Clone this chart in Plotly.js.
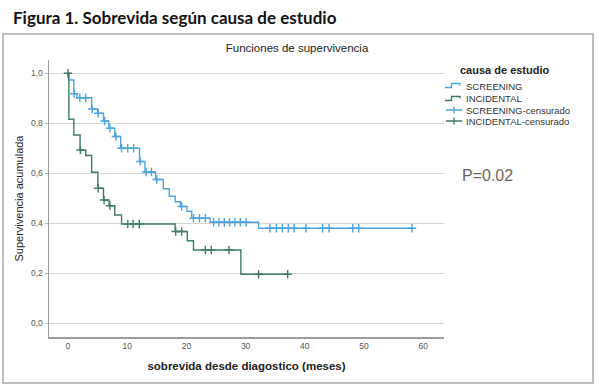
<!DOCTYPE html>
<html>
<head>
<meta charset="utf-8">
<script src="https://cdn.plot.ly/plotly-3.0.1.min.js"></script>
<style>
html,body{margin:0;padding:0;background:#fff;}
#chart{width:599px;height:391px;}
</style>
</head>
<body>
<div id="chart"></div>
<script>
// ---- data ----
const groupNames = ["SCREENING", "INCIDENTAL"];
const legendTitle = "causa de estudio";

// SCREENING: event times (months) and survival after each event
const screeningTimes = [0.15, 1.0, 1.5, 4.0, 5.0, 6.0, 6.9, 7.9, 8.9, 12.1, 13.0, 14.8, 16.1, 17.1, 18.1, 19.0, 20.1, 20.9, 24.0, 32.2];
const screeningSurv  = [0.973, 0.918, 0.902, 0.857, 0.84, 0.809, 0.78, 0.747, 0.70, 0.647, 0.605, 0.575, 0.538, 0.508, 0.486, 0.467, 0.448, 0.42, 0.404, 0.38];
const screeningCensored = [1.05, 2.0, 3.0, 4.1, 5.1, 6.2, 7.1, 8.1, 9.05, 10.1, 11.1, 12.2, 13.2, 14.1, 15.0, 19.2, 21.2, 22.2, 23.2, 24.6, 25.5, 26.4, 27.3, 28.2, 29.1, 30.1, 34.1, 35.2, 36.2, 37.2, 38.2, 40.2, 43.0, 44.1, 48.1, 49.1, 58.1];
const screeningEnd = 58.2;

// INCIDENTAL
const incidentalTimes = [0.15, 1.0, 2.05, 3.0, 4.0, 5.05, 6.0, 6.95, 7.9, 9.05, 18.1, 20.15, 21.2, 29.2];
const incidentalSurv  = [0.816, 0.753, 0.693, 0.671, 0.604, 0.54, 0.493, 0.47, 0.433, 0.397, 0.367, 0.33, 0.293, 0.196];
const incidentalCensored = [0, 2.1, 5.1, 6.1, 7.1, 10.1, 11.0, 12.05, 18.2, 19.2, 23.2, 24.2, 27.2, 32.2, 37.1];
const incidentalEnd = 37.1;

const xTickVals = [0, 10, 20, 30, 40, 50, 60];
const yTickVals = [0, 0.2, 0.4, 0.6, 0.8, 1.0];
const pValueText = "P=0.02";

// ---- helpers ----
function stepXY(times, surv, end) {
  const x = [0], y = [1];
  for (let i = 0; i < times.length; i++) { x.push(times[i]); y.push(surv[i]); }
  x.push(end); y.push(surv[surv.length - 1]);
  return {x, y};
}
function survAt(times, surv, t) {
  let s = 1;
  for (let i = 0; i < times.length; i++) { if (times[i] < t) s = surv[i]; }
  return s;
}

const blue = "#4da3dd";
const dark = "#3f7a6e";

const sStep = stepXY(screeningTimes, screeningSurv, screeningEnd);
const iStep = stepXY(incidentalTimes, incidentalSurv, incidentalEnd);

const traces = [
  {x: sStep.x, y: sStep.y, mode: "lines", line: {shape: "hv", color: blue, width: 1.4}, name: groupNames[0], showlegend: false, hoverinfo: "skip"},
  {x: iStep.x, y: iStep.y, mode: "lines", line: {shape: "hv", color: dark, width: 1.4}, name: groupNames[1], showlegend: false, hoverinfo: "skip"},
  {x: screeningCensored, y: screeningCensored.map(t => survAt(screeningTimes, screeningSurv, t)), mode: "markers",
   marker: {symbol: "cross-thin-open", size: 6, color: blue, line: {color: blue, width: 1.4}}, name: groupNames[0] + "-censurado", showlegend: false},
  {x: incidentalCensored, y: incidentalCensored.map(t => survAt(incidentalTimes, incidentalSurv, t)), mode: "markers",
   marker: {symbol: "cross-thin-open", size: 6, color: dark, line: {color: dark, width: 1.4}}, name: groupNames[1] + "-censurado", showlegend: false}
];

// layout geometry (pixels -> paper)
const L = 49, R = 444, T = 60, B = 337;
const PX = p => (p - L) / (R - L);
const PY = p => (B - p) / (B - T);

const shapes = [
  {type: "rect", xref: "paper", yref: "paper", x0: PX(3), x1: PX(593), y0: PY(383), y1: PY(34), line: {color: "#a6a6a6", width: 1.5}, layer: "below"},
  // legend icons
  {type: "path", xref: "paper", yref: "paper", path: `M${PX(445)},${PY(87.5)} L${PX(451.5)},${PY(87.5)} L${PX(451.5)},${PY(83.5)} L${PX(460)},${PY(83.5)} L${PX(460)},${PY(85.5)}`, line: {color: blue, width: 1.3}},
  {type: "path", xref: "paper", yref: "paper", path: `M${PX(445)},${PY(100.5)} L${PX(451.5)},${PY(100.5)} L${PX(451.5)},${PY(96.5)} L${PX(460)},${PY(96.5)} L${PX(460)},${PY(98.5)}`, line: {color: dark, width: 1.3}},
  {type: "path", xref: "paper", yref: "paper", path: `M${PX(446)},${PY(110)} L${PX(462)},${PY(110)} M${PX(454)},${PY(106.5)} L${PX(454)},${PY(113.5)}`, line: {color: blue, width: 1.3}},
  {type: "path", xref: "paper", yref: "paper", path: `M${PX(446)},${PY(121)} L${PX(462)},${PY(121)} M${PX(454)},${PY(117.5)} L${PX(454)},${PY(124.5)}`, line: {color: dark, width: 1.3}}
];

const legFont = {family: "Liberation Sans, Arial, sans-serif", size: 9.5, color: "#333"};
const annotations = [
  {xref: "paper", yref: "paper", x: PX(11), y: PY(17), xanchor: "left", yanchor: "middle", showarrow: false,
   text: "<b>Figura 1. Sobrevida según causa de estudio</b>", font: {family: "Lato, Noto Sans, sans-serif", size: 17, color: "#111"}},
  {xref: "paper", yref: "paper", x: PX(458), y: PY(70), xanchor: "left", yanchor: "middle", showarrow: false,
   text: "<b>" + legendTitle + "</b>", font: {family: "Liberation Sans, Arial, sans-serif", size: 11, color: "#222"}},
  {xref: "paper", yref: "paper", x: PX(464), y: PY(86), xanchor: "left", yanchor: "middle", showarrow: false, text: groupNames[0], font: legFont},
  {xref: "paper", yref: "paper", x: PX(464), y: PY(98.5), xanchor: "left", yanchor: "middle", showarrow: false, text: groupNames[1], font: legFont},
  {xref: "paper", yref: "paper", x: PX(464), y: PY(110), xanchor: "left", yanchor: "middle", showarrow: false, text: groupNames[0] + "-censurado", font: legFont},
  {xref: "paper", yref: "paper", x: PX(464), y: PY(121), xanchor: "left", yanchor: "middle", showarrow: false, text: groupNames[1] + "-censurado", font: legFont},
  {xref: "paper", yref: "paper", x: PX(488), y: PY(175), xanchor: "center", yanchor: "middle", showarrow: false,
   text: pValueText, font: {family: "Liberation Sans, Arial, sans-serif", size: 16, color: "#6b675b"}}
];

const layout = {
  width: 599, height: 391,
  margin: {l: L, r: 599 - R, t: T, b: 391 - B, pad: 0},
  paper_bgcolor: "#fff", plot_bgcolor: "#fff",
  separators: ",.",
  showlegend: false,
  title: {text: "Funciones de supervivencia", x: 297 / 599, xanchor: "center", y: 1 - 48 / 391, yanchor: "middle",
          font: {family: "Liberation Sans, Arial, sans-serif", size: 11.5, color: "#222"}},
  xaxis: {range: [-3.2, 63.5], tickvals: xTickVals, ticks: "", showgrid: false, zeroline: false,
          showline: true, linecolor: "#9c9c9c", linewidth: 1.5,
          tickfont: {family: "Liberation Sans, Arial, sans-serif", size: 8.5, color: "#555"},
          title: {text: "<b>sobrevida desde diagostico (meses)</b>", standoff: 12,
                  font: {family: "Liberation Sans, Arial, sans-serif", size: 11.5, color: "#222"}}},
  yaxis: {range: [-0.055, 1.053], tickvals: yTickVals, tickformat: ".1f", ticks: "outside", ticklen: 3, tickcolor: "#bbb",
          showgrid: true, gridcolor: "#d6d6d6", gridwidth: 1, zeroline: false,
          showline: true, linecolor: "#9c9c9c", linewidth: 1.5,
          tickfont: {family: "Liberation Sans, Arial, sans-serif", size: 8.5, color: "#555"},
          title: {text: "Supervivencia acumulada", standoff: 5,
                  font: {family: "Liberation Sans, Arial, sans-serif", size: 11, color: "#222"}}},
  shapes: shapes,
  annotations: annotations
};

Plotly.newPlot("chart", traces, layout, {displayModeBar: false, staticPlot: true});
</script>
</body>
</html>
